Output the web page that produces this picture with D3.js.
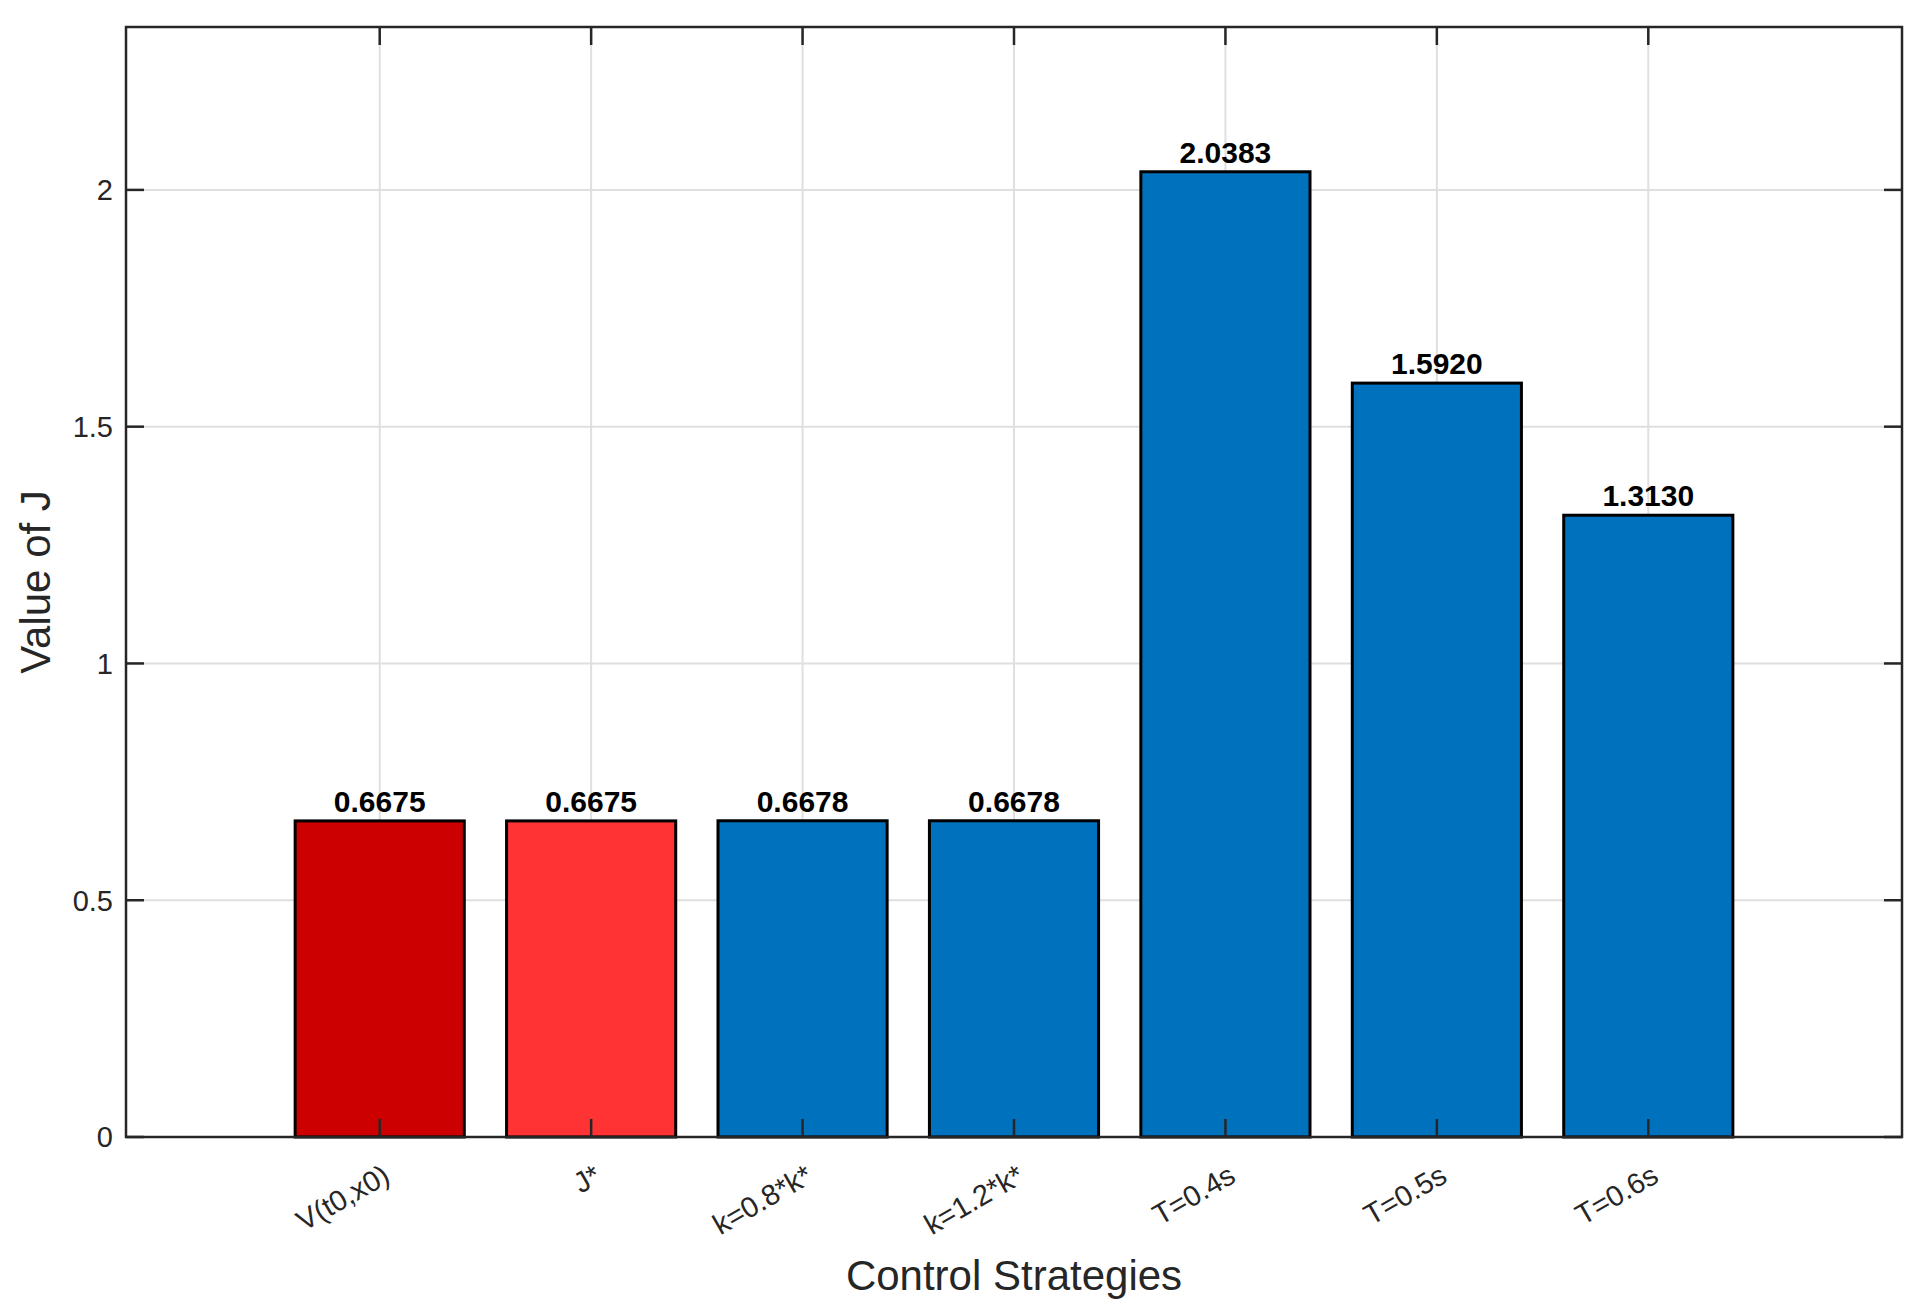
<!DOCTYPE html>
<html>
<head>
<meta charset="utf-8">
<script src="https://cdn.jsdelivr.net/npm/d3@7"></script>
<style>
  html, body { margin: 0; padding: 0; background: #ffffff; }
  svg { display: block; }
  text { font-family: "Liberation Sans", Arial, Helvetica, sans-serif; }
</style>
</head>
<body>
<script>
// ---- data ----
const categories = ["V(t0,x0)", "J*", "k=0.8*k*", "k=1.2*k*", "T=0.4s", "T=0.5s", "T=0.6s"];
const values = [0.6675, 0.6675, 0.6678, 0.6678, 2.0383, 1.5920, 1.3130];
const barColors = ["#CC0000", "#FF3333", "#0072BD", "#0072BD", "#0072BD", "#0072BD", "#0072BD"];
const yTicks = [0, 0.5, 1, 1.5, 2];
const yTickLabels = ["0", "0.5", "1", "1.5", "2"];
const xDomain = [-0.2, 8.2];
const yDomain = [0, 2.344];
const xTitle = "Control Strategies";
const yTitle = "Value of J";

// ---- layout ----
const W = 1928, H = 1313;
const plot = { left: 126, right: 1902, top: 27, bottom: 1137 };
const barWidthUnits = 0.8;
const axisColor = "#262626";
const gridColor = "#dfdfdf";
const tickLen = 18;

const svg = d3.select("body").append("svg")
  .attr("width", W).attr("height", H);
svg.append("rect").attr("width", W).attr("height", H).attr("fill", "#ffffff");

const x = d3.scaleLinear().domain(xDomain).range([plot.left, plot.right]);
const y = d3.scaleLinear().domain(yDomain).range([plot.bottom, plot.top]);
const pos = categories.map((c, i) => i + 1);

// grid
const grid = svg.append("g");
grid.selectAll("line.gx").data(pos).enter().append("line")
  .attr("x1", d => x(d)).attr("x2", d => x(d))
  .attr("y1", plot.top).attr("y2", plot.bottom)
  .attr("stroke", gridColor).attr("stroke-width", 2);
grid.selectAll("line.gy").data(yTicks).enter().append("line")
  .attr("x1", plot.left).attr("x2", plot.right)
  .attr("y1", d => y(d)).attr("y2", d => y(d))
  .attr("stroke", gridColor).attr("stroke-width", 2);

// bars
const halfW = (x(barWidthUnits) - x(0)) / 2;
svg.append("g").selectAll("rect").data(values).enter().append("rect")
  .attr("x", (d, i) => x(pos[i]) - halfW)
  .attr("width", halfW * 2)
  .attr("y", d => y(d))
  .attr("height", d => y(0) - y(d))
  .attr("fill", (d, i) => barColors[i])
  .attr("stroke", "#000000")
  .attr("stroke-width", 3);

// value labels
const fmt = d3.format(".4f");
svg.append("g").selectAll("text").data(values).enter().append("text")
  .attr("x", (d, i) => x(pos[i]))
  .attr("y", d => y(d) - 9)
  .attr("text-anchor", "middle")
  .attr("font-size", 30)
  .attr("font-weight", "bold")
  .attr("fill", "#000000")
  .text(d => fmt(d));

// axes box
const ax = svg.append("g").attr("stroke", axisColor).attr("stroke-width", 2.5).attr("fill", "none");
ax.append("rect")
  .attr("x", plot.left).attr("y", plot.top)
  .attr("width", plot.right - plot.left).attr("height", plot.bottom - plot.top);

// y ticks (left and right, inward)
yTicks.forEach(t => {
  ax.append("line").attr("x1", plot.left).attr("x2", plot.left + tickLen)
    .attr("y1", y(t)).attr("y2", y(t));
  ax.append("line").attr("x1", plot.right).attr("x2", plot.right - tickLen)
    .attr("y1", y(t)).attr("y2", y(t));
});
// x ticks (bottom and top, inward)
pos.forEach(p => {
  ax.append("line").attr("x1", x(p)).attr("x2", x(p))
    .attr("y1", plot.bottom).attr("y2", plot.bottom - tickLen);
  ax.append("line").attr("x1", x(p)).attr("x2", x(p))
    .attr("y1", plot.top).attr("y2", plot.top + tickLen);
});

// y tick labels
svg.append("g").selectAll("text").data(yTicks).enter().append("text")
  .attr("x", plot.left - 13)
  .attr("y", d => y(d))
  .attr("dy", "0.36em")
  .attr("text-anchor", "end")
  .attr("font-size", 29)
  .attr("fill", axisColor)
  .text((d, i) => yTickLabels[i]);

// x tick labels (rotated)
svg.append("g").selectAll("text").data(categories).enter().append("text")
  .attr("transform", (d, i) => `translate(${x(pos[i]) + 12},${plot.bottom + 44}) rotate(-30)`)
  .attr("text-anchor", "end")
  .attr("font-size", 29)
  .attr("fill", axisColor)
  .text(d => d);

// axis titles
svg.append("text")
  .attr("x", (plot.left + plot.right) / 2)
  .attr("y", 1290)
  .attr("text-anchor", "middle")
  .attr("font-size", 42)
  .attr("fill", axisColor)
  .text(xTitle);

svg.append("text")
  .attr("transform", `translate(50,${(plot.top + plot.bottom) / 2}) rotate(-90)`)
  .attr("text-anchor", "middle")
  .attr("font-size", 42)
  .attr("fill", axisColor)
  .text(yTitle);
</script>
</body>
</html>
